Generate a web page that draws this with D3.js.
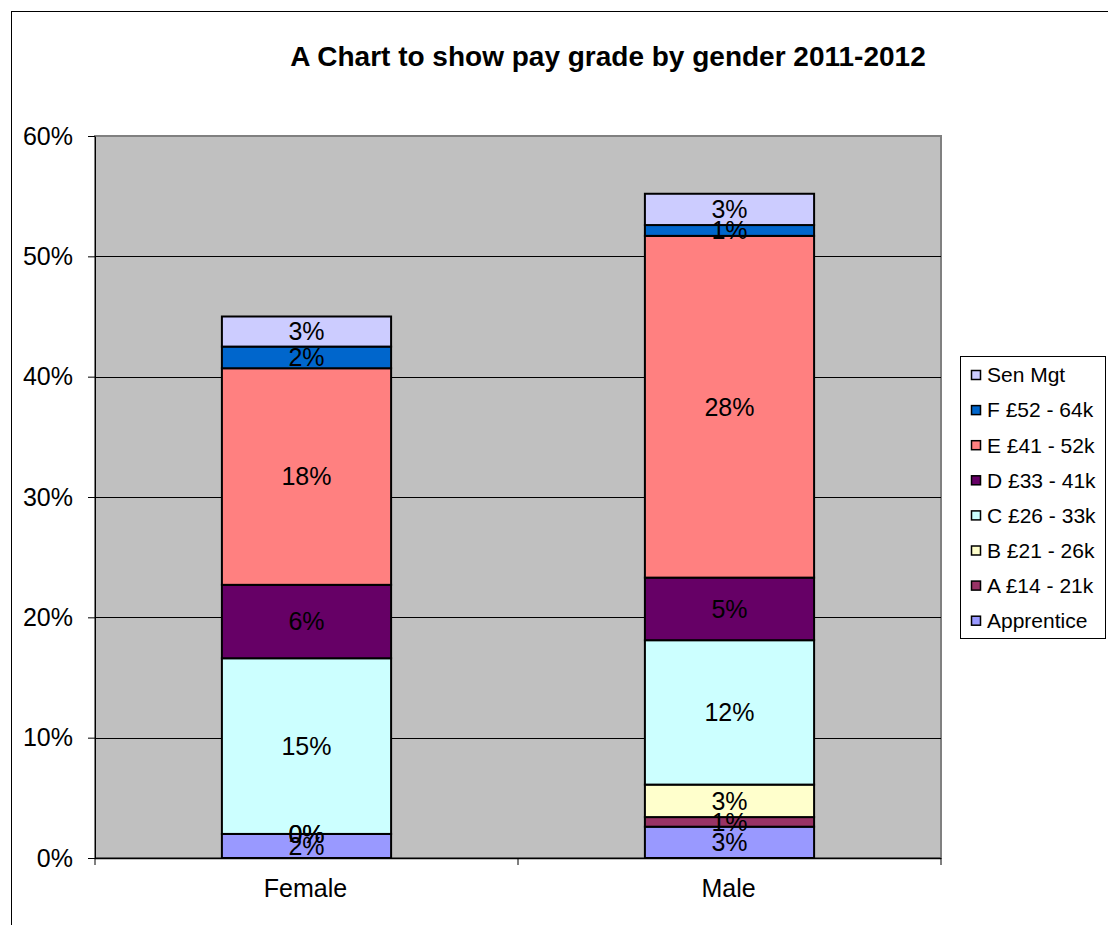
<!DOCTYPE html>
<html>
<head>
<meta charset="utf-8">
<script src="https://cdn.jsdelivr.net/npm/d3@7"></script>
<style>
  body { margin: 0; background: #fff; }
  svg { display: block; font-family: Arial, "Liberation Sans", sans-serif; }
</style>
</head>
<body>
<svg width="1108" height="925"></svg>
<script>
// chart data
const genders = ["Female", "Male"];
const grades = ["Apprentice", "A £14 - 21k", "B £21 - 26k", "C £26 - 33k",
                "D £33 - 41k", "E £41 - 52k", "F £52 - 64k", "Sen Mgt"];
const female = [2.0, 0.0, 0.0, 14.6, 6.1, 18.0, 1.8, 2.5];
const male = [2.6, 0.8, 2.7, 12.0, 5.2, 28.4, 0.9, 2.6];
const gradeColours = ["#9999FF", "#993366", "#FFFFCC", "#CCFFFF",
                      "#660066", "#FF8080", "#0066CC", "#CCCCFF"];
const yTicks = [0, 10, 20, 30, 40, 50, 60];

var svg = d3.select("svg");

// outer chart frame
svg.append("rect")
    .attr("x", 11.5).attr("y", 11.5)
    .attr("width", 1120).attr("height", 940)
    .attr("fill", "#fff").attr("stroke", "#000").attr("stroke-width", 1);

var plot = { left: 95, right: 941, top: 136, bottom: 858 };

var x = d3.scaleBand()
    .domain(genders)
    .range([plot.left, plot.right])
    .paddingInner(0.6)
    .paddingOuter(0.3);

var xTick = d3.scaleBand()
    .domain(genders)
    .range([plot.left, plot.right]);

var y = d3.scaleLinear()
    .domain([0, 60])
    .range([plot.bottom, plot.top]);

// plot area background
svg.append("rect")
    .attr("x", plot.left).attr("y", plot.top)
    .attr("width", plot.right - plot.left)
    .attr("height", plot.bottom - plot.top)
    .attr("fill", "#C0C0C0")
    .attr("stroke", "#808080").attr("stroke-width", 2);

// gridlines
svg.append("g")
    .selectAll("line")
    .data(yTicks.slice(1, -1))
    .enter().append("line")
    .attr("x1", plot.left).attr("x2", plot.right)
    .attr("y1", d => Math.round(y(d)) + 0.5)
    .attr("y2", d => Math.round(y(d)) + 0.5)
    .attr("stroke", "#000").attr("stroke-width", 1);

// y axis
var yAxis = d3.axisLeft(y)
    .tickValues(yTicks)
    .tickFormat(d => d + "%")
    .tickSizeInner(7)
    .tickSizeOuter(0);

var yg = svg.append("g")
    .attr("transform", "translate(" + plot.left + ",0)")
    .call(yAxis);
yg.select(".domain").attr("stroke", "#000");
yg.selectAll(".tick line").attr("stroke", "#000");
yg.selectAll(".tick text")
    .attr("x", -22)
    .attr("font-size", 25)
    .attr("font-family", "Arial, 'Liberation Sans', sans-serif")
    .attr("fill", "#000");

// x axis (ticks sit at category boundaries)
var bounds = [plot.left].concat(genders.map(g => xTick(g) + xTick.bandwidth()));
var xg = svg.append("g");
xg.append("line")
    .attr("x1", plot.left).attr("x2", plot.right)
    .attr("y1", plot.bottom + 0.5).attr("y2", plot.bottom + 0.5)
    .attr("stroke", "#000").attr("stroke-width", 1.5);
xg.selectAll("line.tick")
    .data(bounds)
    .enter().append("line")
    .attr("class", "tick")
    .attr("x1", d => d).attr("x2", d => d)
    .attr("y1", plot.bottom).attr("y2", plot.bottom + 7)
    .attr("stroke", "#000");
xg.selectAll("text")
    .data(genders)
    .enter().append("text")
    .attr("x", d => xTick(d) + xTick.bandwidth() / 2 - 1)
    .attr("y", plot.bottom + 39)
    .attr("text-anchor", "middle")
    .attr("font-size", 25)
    .text(d => d);

// stacked bars
var rows = genders.map((g, i) => {
    var row = { gender: g };
    var vals = i === 0 ? female : male;
    grades.forEach((k, j) => { row[k] = vals[j]; });
    return row;
});

var series = d3.stack().keys(grades)(rows);

var layers = svg.append("g")
    .selectAll("g")
    .data(series)
    .enter().append("g")
    .attr("fill", (d, i) => gradeColours[i]);

layers.selectAll("rect")
    .data(d => d)
    .enter().append("rect")
    .attr("x", d => x(d.data.gender))
    .attr("y", d => y(d[1]))
    .attr("width", x.bandwidth())
    .attr("height", d => y(d[0]) - y(d[1]))
    .attr("stroke", "#000")
    .attr("stroke-width", 2);

// data labels
var labels = svg.append("g");
series.forEach(s => {
    s.forEach(d => {
        labels.append("text")
            .attr("x", x(d.data.gender) + x.bandwidth() / 2)
            .attr("y", (y(d[0]) + y(d[1])) / 2)
            .attr("dy", "0.35em")
            .attr("text-anchor", "middle")
            .attr("font-size", 25)
            .attr("fill", "#000")
            .text(Math.round(d[1] - d[0]) + "%");
    });
});

// title
svg.append("text")
    .attr("x", 608)
    .attr("y", 66)
    .attr("text-anchor", "middle")
    .attr("font-size", 28)
    .attr("font-weight", "bold")
    .text("A Chart to show pay grade by gender 2011-2012");

// legend
var legend = svg.append("g");
legend.append("rect")
    .attr("x", 960.5).attr("y", 356.5)
    .attr("width", 145).attr("height", 282)
    .attr("fill", "#fff").attr("stroke", "#000");

var legendItems = grades.slice().reverse();
var legendColours = gradeColours.slice().reverse();

var item = legend.selectAll("g.item")
    .data(legendItems)
    .enter().append("g")
    .attr("class", "item")
    .attr("transform", (d, i) => "translate(0," + (375 + i * 35.1) + ")");

item.append("rect")
    .attr("x", 971.5).attr("y", -4.5)
    .attr("width", 9).attr("height", 9)
    .attr("fill", (d, i) => legendColours[i])
    .attr("stroke", "#000").attr("stroke-width", 1.5);

item.append("text")
    .attr("x", 987)
    .attr("dy", "0.35em")
    .attr("font-size", 21)
    .text(d => d);
</script>
</body>
</html>
